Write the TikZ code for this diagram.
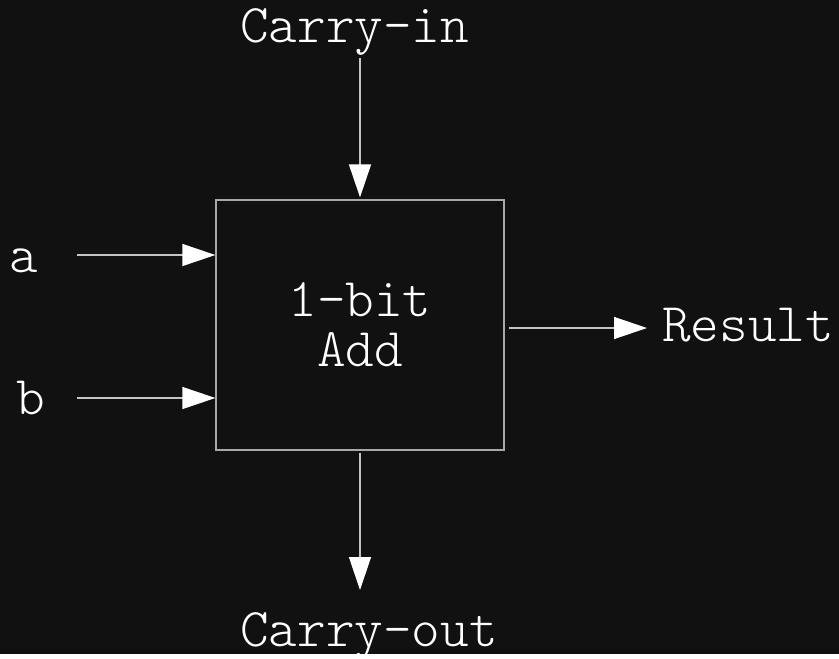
\documentclass[tikz,border=0pt]{standalone}
\usepackage{fontspec}
\setmonofont{Latin Modern Mono Light}
\usepackage{tikz}
\usetikzlibrary{arrows.meta, positioning}
\definecolor{bg}{HTML}{111111}
\definecolor{wire}{HTML}{C4C4C4}
\definecolor{frame}{HTML}{A8A8A8}

\begin{document}
\begin{tikzpicture}[x=1pt,y=-1pt,font=\fontsize{54.5}{50}\selectfont\ttfamily,text=white,
    sig/.style={wire,line width=1.3pt,-{Triangle[length=33pt,width=22pt,color=white]}},
    lbl/.style={inner sep=0pt,anchor=base west}]
       \fill[bg] (0,0) rectangle (839,654);

       % the adder block
       \node[draw=frame,line width=1.3pt,minimum width=288pt,minimum height=250pt,
             align=center] (adder) at (360,325) {1-bit\\Add};

       % labels
       \node[lbl] (cin) at (240,42) {Carry-in};
       \node[lbl] (cout) at (240,646) {Carry-out};
       \node[lbl] (res) at (662,341) {Result};
       \node[inner sep=0pt,anchor=base] (a) at (24,272) {a};
       \node[inner sep=0pt,anchor=base] (b) at (31,414) {b};

       % wire ends
       \coordinate (a-src) at (77,255);
       \coordinate (b-src) at (77,398);
       \coordinate (cin-src) at (360,58);
       \coordinate (cout-end) at (360,590);
       \coordinate (res-end) at (647,328);

       \draw[sig] (a-src) -- (a-src -| adder.west);
       \draw[sig] (b-src) -- (b-src -| adder.west);
       \draw[sig,shorten >=2pt] (cin-src) -- (adder.north);
       \draw[sig,shorten <=2pt] (adder.south) -- (cout-end);
       \draw[sig,shorten <=4pt] (adder.east |- res-end) -- (res-end);
\end{tikzpicture}
\end{document}
